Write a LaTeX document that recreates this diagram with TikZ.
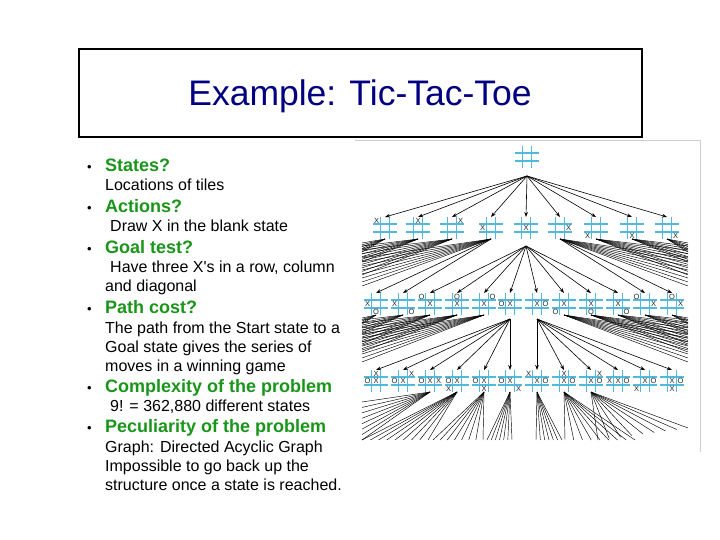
\documentclass[tikz,border=0pt]{standalone}
\usepackage{fontspec}
\setmainfont{Liberation Sans}
\usetikzlibrary{arrows.meta,calc}
\definecolor{navy}{RGB}{0,0,128}
\definecolor{hgreen}{RGB}{25,150,25}
\definecolor{gridc}{RGB}{80,185,220}
\definecolor{framec}{RGB}{205,205,205}
\newcommand\fanlines[6]{\foreach \k in {0,...,#6}{\draw[fan] (#1.south) -- ($(#2,#3)!{\k/#6}!(#4,#5)$);}}
\begin{document}
\begin{tikzpicture}[x=1pt,y=-1pt,
  hdr/.style={anchor=base west, inner sep=0, font=\fontsize{18}{20}\selectfont\bfseries, text=hgreen},
  body/.style={anchor=base west, inner sep=0, font=\fontsize{16}{18}\selectfont},
  bul/.style={anchor=base west, inner sep=0, font=\fontsize{13}{14}\selectfont},
  ttt/.style={minimum width=24pt, minimum height=22pt, inner sep=0, outer sep=0,
    path picture={
      \draw[gridc, line width=1.3pt]
        ([xshift=-4.5pt]path picture bounding box.north) -- ([xshift=-4.5pt]path picture bounding box.south)
        ([xshift=4.5pt]path picture bounding box.north) -- ([xshift=4.5pt]path picture bounding box.south)
        ([yshift=4pt]path picture bounding box.west) -- ([yshift=4pt]path picture bounding box.east)
        ([yshift=-4pt]path picture bounding box.west) -- ([yshift=-4pt]path picture bounding box.east);
    }},
  mk/.style={inner sep=0, font=\fontsize{7.5}{7.5}\selectfont, text=black!85},
  mTL/.style={label={[mk,xshift=-8.5pt,yshift=7.5pt]center:#1}},
  mTM/.style={label={[mk,xshift=0pt,yshift=7.5pt]center:#1}},
  mTR/.style={label={[mk,xshift=8.5pt,yshift=7.5pt]center:#1}},
  mML/.style={label={[mk,xshift=-8.5pt,yshift=0pt]center:#1}},
  mC/.style={label={[mk]center:#1}},
  mMR/.style={label={[mk,xshift=8.5pt,yshift=0pt]center:#1}},
  mBL/.style={label={[mk,xshift=-8.5pt,yshift=-7.5pt]center:#1}},
  mBM/.style={label={[mk,xshift=0pt,yshift=-7.5pt]center:#1}},
  mBR/.style={label={[mk,xshift=8.5pt,yshift=-7.5pt]center:#1}},
  arr/.style={-{Stealth[length=5pt,width=3.6pt]}, line width=0.6pt},
  fan/.style={line width=0.45pt}
]
\useasboundingbox (0,0) rectangle (720,540);
\fill[white] (0,0) rectangle (720,540);

% title
\node[draw, line width=2pt, minimum width=563pt, minimum height=88pt, inner sep=0] (tbox) at (360.5,93) {};
\node[anchor=base, inner sep=0, font=\fontsize{35.5}{40}\selectfont, text=navy] (title) at (360,106) {Example: Tic-Tac-Toe};

% bullets and text
\node[bul] (u1) at (87,171.5) {•};
\node[hdr] (t1) at (105,171.5) {States?};
\node[body] (t2) at (105,191) {Locations of tiles};
\node[bul] (u2) at (87,212.5) {•};
\node[hdr] (t3) at (105,212.5) {Actions?};
\node[body] (t4) at (110,231.5) {Draw X in the blank state};
\node[bul] (u3) at (87,253) {•};
\node[hdr] (t5) at (105,253) {Goal test?};
\node[body] (t6) at (110,272.5) {Have three X\textquotesingle s in a row, column};
\node[body] (t7) at (105,291) {and diagonal};
\node[bul] (u4) at (87,313) {•};
\node[hdr] (t8) at (105,313) {Path cost?};
\node[body] (t9) at (105,333) {The path from the Start state to a};
\node[body] (t10) at (105,352.5) {Goal state gives the series of};
\node[body] (t11) at (105,371.5) {moves in a winning game};
\node[bul] (u5) at (87,392) {•};
\node[hdr] (t12) at (105,392) {Complexity of the problem};
\node[body] (t13) at (110,411.5) {9! = 362,880 different states};
\node[bul] (u6) at (87,432.5) {•};
\node[hdr] (t14) at (105,432.5) {Peculiarity of the problem};
\node[body] (t15) at (105,452) {Graph: Directed Acyclic Graph};
\node[body] (t16) at (105,471) {Impossible to go back up the};
\node[body] (t17) at (105,490) {structure once a state is reached.};

% image frame
\draw[framec, line width=1pt] (355,141) -- (700,141) -- (700,452);

% root
\node[ttt] (r) at (527,157) {};
% level 1
\node[ttt, mTL=X] (p1) at (385,228) {};
\node[ttt, mTM=X] (p2) at (418,228) {};
\node[ttt, mTR=X] (p3) at (452,228) {};
\node[ttt, mML=X] (p4) at (491,228) {};
\node[ttt, mC=X]  (p5) at (526,228) {};
\node[ttt, mMR=X] (p6) at (560,228) {};
\node[ttt, mBL=X] (p7) at (596,228) {};
\node[ttt, mBM=X] (p8) at (632,228) {};
\node[ttt, mBR=X] (p9) at (667,228) {};
% level 2
\node[ttt, mML=X, mBM=O] (q1) at (376,304) {};
\node[ttt, mML=X, mBR=O] (q2) at (403,304) {};
\node[ttt, mTL=O, mC=X]  (q3) at (430,304) {};
\node[ttt, mTM=O, mC=X]  (q4) at (457,304) {};
\node[ttt, mC=X, mTR=O]  (q5) at (484,304) {};
\node[ttt, mML=O, mC=X]  (q6) at (510,304) {};
\node[ttt, mC=X, mMR=O]  (q7) at (537,304) {};
\node[ttt, mBL=O, mC=X]  (q8) at (564,304) {};
\node[ttt, mC=X, mBM=O]  (q9) at (591,304) {};
\node[ttt, mC=X, mBR=O]  (q10) at (618,304) {};
\node[ttt, mTL=O, mMR=X] (q11) at (645,304) {};
\node[ttt, mTM=O, mMR=X] (q12) at (672,304) {};
% level 3
\node[ttt, mTM=X, mML=O, mC=X] (s1) at (376,381) {};
\node[ttt, mTR=X, mML=O, mC=X] (s2) at (403,381) {};
\node[ttt, mML=O, mC=X, mMR=X] (s3) at (430,381) {};
\node[ttt, mML=O, mC=X, mBL=X] (s4) at (457,381) {};
\node[ttt, mML=O, mC=X, mBM=X] (s5) at (484,381) {};
\node[ttt, mML=O, mC=X, mBR=X] (s6) at (510,381) {};
\node[ttt, mTL=X, mC=X, mMR=O] (s7) at (537,381) {};
\node[ttt, mTM=X, mC=X, mMR=O] (s8) at (564,381) {};
\node[ttt, mTR=X, mC=X, mMR=O] (s9) at (591,381) {};
\node[ttt, mML=X, mC=X, mMR=O] (s10) at (618,381) {};
\node[ttt, mBL=X, mC=X, mMR=O] (s11) at (645,381) {};
\node[ttt, mBM=X, mC=X, mMR=O] (s12) at (672,381) {};

% arrows root -> level 1
\coordinate (r0) at ($(r.south)+(0,8)$);
\foreach \n in {1,...,9} \draw[arr] (r0) -- (p\n.north);
% arrows level 1 -> level 2
\coordinate (p50) at ($(p5.south)+(0,7)$);
\foreach \n in {3,...,10} \draw[arr] (p50) -- (q\n.north);
\draw[arr] (p4.south) -- (q1.north);
\draw[arr] (p4.south) -- (q2.north);
\draw[arr] (p6.south) -- (q11.north);
\draw[arr] (p6.south) -- (q12.north);
% arrows level 2 -> level 3
\coordinate (q60) at ($(q6.south)+(0,4)$);
\coordinate (q70) at ($(q7.south)+(0,4)$);
\foreach \n in {1,...,6} \draw[arr] (q60) -- (s\n.north);
\foreach \n in {7,...,12} \draw[arr] (q70) -- (s\n.north);

% fans level 1
\fanlines{p1}{362}{243}{362}{252}{5}
\fanlines{p2}{362}{246}{362}{262}{6}
\fanlines{p3}{362}{250}{362}{275}{7}
\fanlines{p4}{362}{258}{362}{286}{7}
\fanlines{p6}{688}{258}{688}{286}{7}
\fanlines{p7}{688}{250}{688}{275}{7}
\fanlines{p8}{688}{246}{688}{262}{6}
\fanlines{p9}{688}{243}{688}{252}{5}
% fans level 2
\fanlines{q1}{362}{318}{362}{324}{4}
\fanlines{q2}{362}{320}{362}{333}{5}
\fanlines{q3}{362}{323}{362}{344}{6}
\fanlines{q4}{362}{328}{362}{352}{7}
\fanlines{q5}{362}{334}{362}{362}{7}
\fanlines{q8}{688}{334}{688}{362}{7}
\fanlines{q9}{688}{328}{688}{352}{7}
\fanlines{q10}{688}{323}{688}{344}{6}
\fanlines{q11}{688}{320}{688}{333}{5}
\fanlines{q12}{688}{318}{688}{324}{4}
% fans level 3
\fanlines{s3}{362}{402}{362}{440}{7}
\fanlines{s4}{362}{440}{428}{440}{8}
\fanlines{s5}{433}{440}{483}{440}{7}
\fanlines{s6}{487}{440}{512}{440}{6}
\fanlines{s7}{536}{440}{562}{440}{6}
\fanlines{s8}{565}{440}{635}{440}{8}
\fanlines{s9}{598}{440}{688}{428}{8}
\end{tikzpicture}
\end{document}
